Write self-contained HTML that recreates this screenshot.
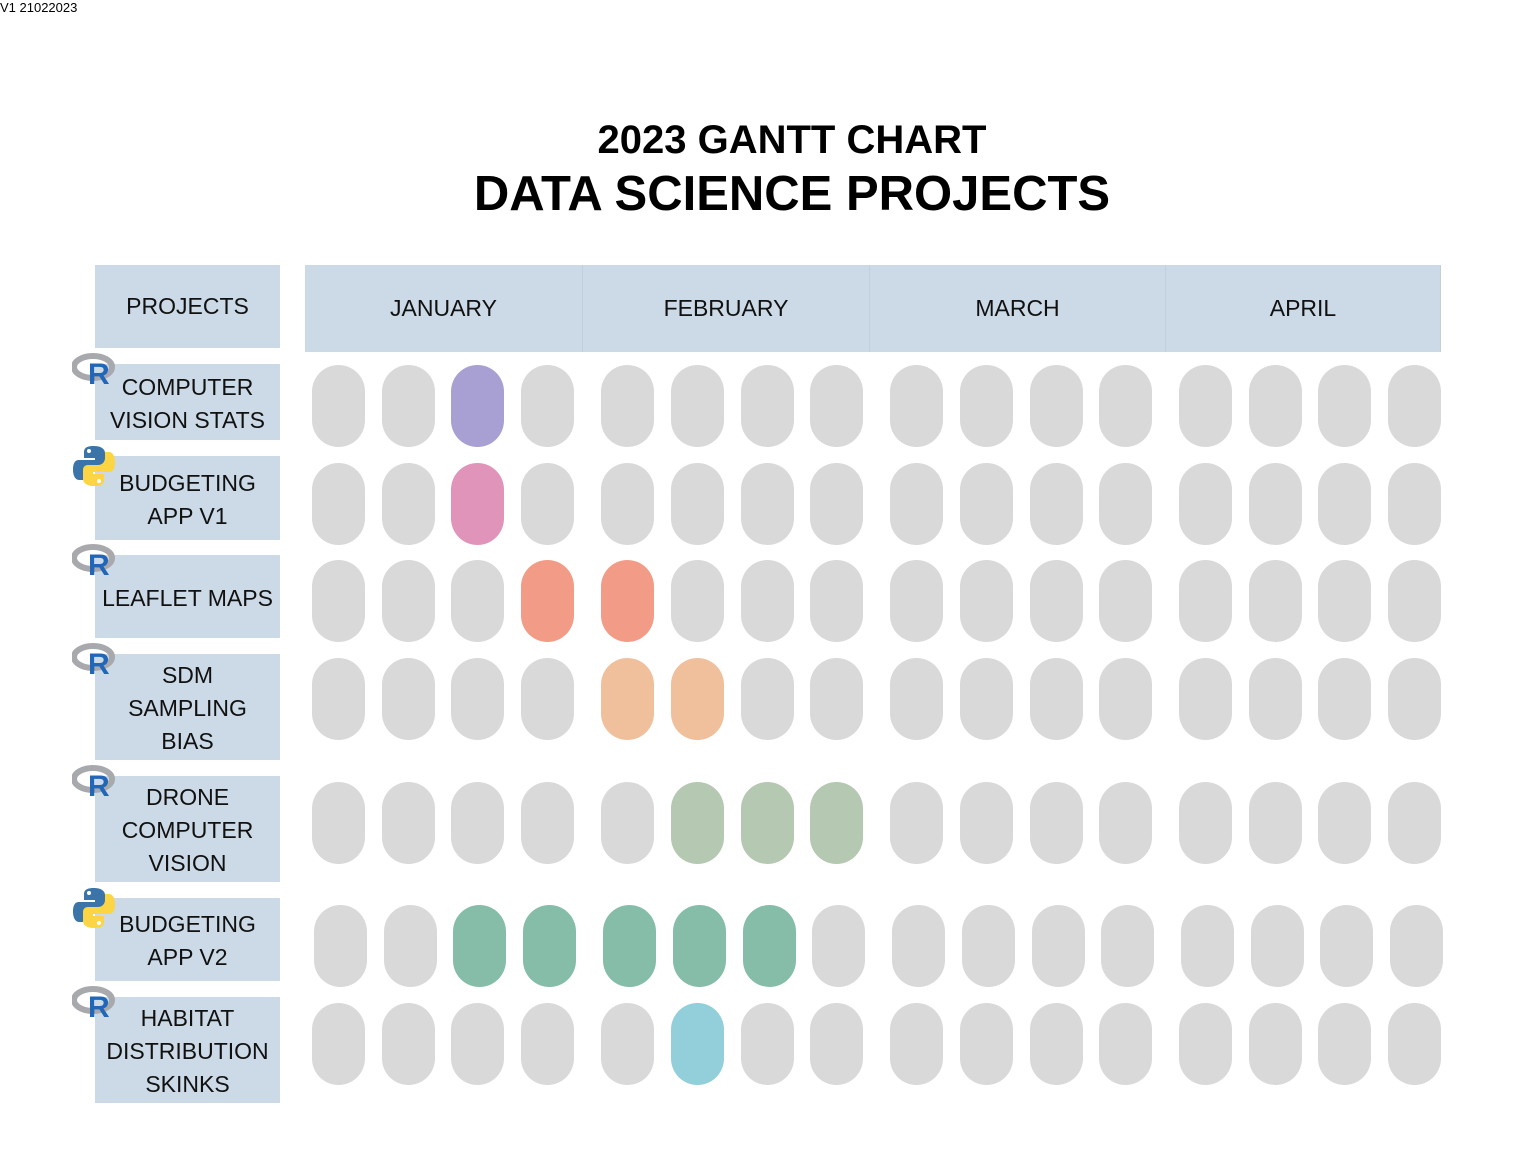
<!DOCTYPE html>
<html><head><meta charset="utf-8">
<style>
body{margin:0;width:1536px;height:1152px;background:#fff;position:relative;overflow:hidden;font-family:"Liberation Sans",sans-serif;}
.abs{position:absolute;}
.lbl{position:absolute;left:95px;width:185px;background:#cbdae6;display:flex;align-items:center;justify-content:center;text-align:center;font-size:23px;line-height:33px;color:#111;}
.mon{position:absolute;top:265px;height:87px;background:#cbdae6;display:flex;align-items:center;justify-content:center;font-size:23px;color:#111;border-right:1px solid #c2d0dc;box-sizing:border-box;}
.pill{position:absolute;width:53px;height:82px;border-radius:27px;}
</style></head><body>
<div class="abs" style="left:0;top:0;font-size:13px;">V1 21022023</div>
<div class="abs" style="left:0;width:1584px;top:118px;text-align:center;font-size:40px;font-weight:bold;">2023 GANTT CHART</div>
<div class="abs" style="left:0;width:1584px;top:166px;text-align:center;font-size:49px;font-weight:bold;">DATA SCIENCE PROJECTS</div>
<div class="lbl" style="top:265px;height:83px;">PROJECTS</div>
<div id="chart"></div>
<script>
const months=["JANUARY","FEBRUARY","MARCH","APRIL"];
const projects=["COMPUTER<br>VISION STATS","BUDGETING<br>APP V1","LEAFLET MAPS","SDM<br>SAMPLING<br>BIAS","DRONE<br>COMPUTER<br>VISION","BUDGETING<br>APP V2","HABITAT<br>DISTRIBUTION<br>SKINKS"];
const langs=["R","PY","R","R","R","PY","R"];
const startWeek=[2,2,3,4,5,2,5];
const endWeek=[2,2,4,5,7,6,5];
const colors=["#a89fd3","#e094b9","#f29c88","#f0c09c","#b5c8b1","#86bda8","#93cfdb"];
// layout
const monEdges=[305,583,870,1166,1441];
const colX=[338,408,477,547,627,697,767,836,916,986,1056,1125,1205,1275,1344,1414];
const rowY=[406,504,601,699,823,946,1044];
const boxTop=[364,456,555,654,776,898,997];
const boxBot=[440,540,638,760,882,981,1103];
const c=document.getElementById('chart');
months.forEach((m,i)=>{const d=document.createElement('div');d.className='mon';


d.style.left=monEdges[i]+'px';d.style.width=(monEdges[i+1]-monEdges[i])+'px';d.textContent=m;c.appendChild(d);});
const rIcon='<svg width="46" height="36" viewBox="0 0 46 36"><ellipse cx="21" cy="15" rx="19" ry="11" fill="none" stroke="#a8a9ad" stroke-width="6"/><text x="16" y="32" font-family="Liberation Sans" font-weight="bold" font-size="30" fill="#2266b8">R</text></svg>';
const pyIcon='<svg width="44" height="44" viewBox="0 0 44 44"><path d="M22 2c-10 0-10 4-10 7v5h11v2H7c-5 0-6 5-6 10s2 10 6 10h4v-6c0-4 3-7 7-7h10c3 0 5-2 5-5V9c0-4-4-7-11-7z" fill="#3a74a8"/><path d="M22 42c10 0 10-4 10-7v-5H21v-2h16c5 0 6-5 6-10s-2-10-6-10h-4v6c0 4-3 7-7 7H16c-3 0-5 2-5 5v9c0 4 4 7 11 7z" fill="#fdd444"/><circle cx="17" cy="7" r="2" fill="#fff"/><circle cx="27" cy="37" r="2" fill="#fff"/></svg>';
projects.forEach((p,r)=>{
 const b=document.createElement('div');b.className='lbl';
 
 
 b.style.top=boxTop[r]+'px';b.style.height=(boxBot[r]-boxTop[r])+'px';b.innerHTML='<div style="padding-top:3px">'+p+'</div>';c.appendChild(b);
 const ic=document.createElement('div');ic.className='abs';
 
 
 ic.style.left='72px';ic.style.top=(boxTop[r]-(langs[r]==='R'?12:12))+'px';ic.innerHTML=langs[r]==='R'?rIcon:pyIcon;c.appendChild(ic);
 colX.forEach((x,w)=>{const d=document.createElement('div');d.className='pill';
  
  
  const on=w>=startWeek[r]&&w<=endWeek[r];
  d.style.background=on?colors[r]:'#d9d9d9';
  d.style.left=(x-26+(r===5?2:0))+'px';d.style.top=(rowY[r]-41)+'px';c.appendChild(d);});
});
</script>
</body></html>
